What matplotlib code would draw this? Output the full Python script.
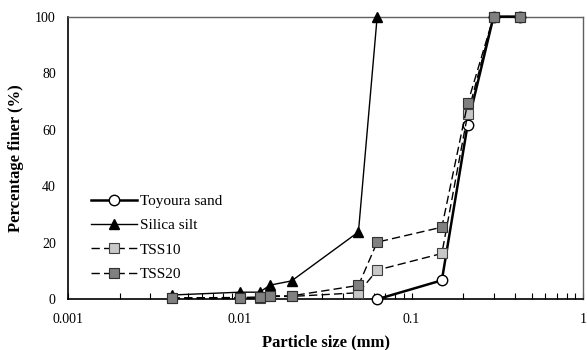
import numpy as np
import matplotlib.pyplot as plt
from matplotlib.ticker import FixedLocator, LogLocator, NullFormatter, FuncFormatter

plt.rcParams['font.family'] = ['Liberation Serif', 'DejaVu Serif']

# particle sizes (mm) and percentage finer
sand_d = [0.063, 0.15, 0.212, 0.3, 0.425]
sand_p = [0.0, 6.7, 61.8, 100.0, 100.0]

silt_d = [0.004, 0.01, 0.013, 0.015, 0.02, 0.049, 0.063]
silt_p = [1.5, 2.5, 2.5, 5.0, 6.5, 23.8, 100.0]

tss_d = [0.004, 0.01, 0.013, 0.015, 0.02, 0.049, 0.063, 0.15, 0.212, 0.3, 0.425]
tss10_p = [0.3, 0.3, 0.5, 1.0, 1.0, 2.3, 10.3, 16.2, 65.4, 100.0, 100.0]
tss20_p = [0.5, 0.6, 0.8, 1.2, 1.2, 4.9, 20.2, 25.5, 69.3, 100.0, 100.0]

fig = plt.figure(figsize=(5.87, 3.5), dpi=100)
ax = fig.add_axes([0.1163, 0.145, 0.8774, 0.8075])

# solid curves first, mixtures drawn on top
ax.plot(sand_d, sand_p, color='black', lw=1.8, marker='o', ms=7.5,
        mfc='white', mec='black', mew=1.0, label='Toyoura sand', zorder=3, clip_on=False)
ax.plot(silt_d, silt_p, color='black', lw=1.0, marker='^', ms=6.5,
        mfc='black', mec='black', label='Silica silt', zorder=4, clip_on=False)

dash = (0, (6, 3))
ax.plot(tss_d, tss10_p, color='black', lw=1.0, linestyle=dash, marker='s', ms=6.5,
        mfc='#c8c8c8', mec='#404040', mew=0.8, label='TSS10', zorder=5, clip_on=False)
ax.plot(tss_d, tss20_p, color='black', lw=1.0, linestyle=dash, marker='s', ms=6.5,
        mfc='#808080', mec='#303030', mew=0.8, label='TSS20', zorder=6, clip_on=False)

ax.set_xscale('log')
ax.set_xlim(0.001, 1)
ax.set_ylim(0, 100)
ax.xaxis.set_major_locator(FixedLocator([0.001, 0.01, 0.1, 1]))
ax.xaxis.set_major_formatter(FuncFormatter(lambda v, _: f'{v:g}'))
ax.xaxis.set_minor_locator(LogLocator(base=10, subs=np.arange(2, 10)))
ax.xaxis.set_minor_formatter(NullFormatter())
ax.set_yticks([0, 20, 40, 60, 80, 100])

ax.tick_params(axis='x', which='both', direction='in', length=4, width=0.8, labelsize=10, pad=10)
ax.tick_params(axis='y', length=0, labelsize=10, pad=9)

for side in ('left', 'bottom'):
    ax.spines[side].set_linewidth(1.2)
    ax.spines[side].set_color('black')
for side in ('top', 'right'):
    ax.spines[side].set_linewidth(1.0)
    ax.spines[side].set_color('#606060')

ax.set_xlabel('Particle size (mm)', fontsize=12, fontweight='bold', labelpad=6)
ax.set_ylabel('Percentage finer (%)', fontsize=12, fontweight='bold', labelpad=8)

ax.legend(loc='upper left', bbox_to_anchor=(0.018, 0.42), frameon=False,
          fontsize=11, handlelength=3.0, labelspacing=0.7, handletextpad=0.2)

fig.savefig('out.png', dpi=100)
